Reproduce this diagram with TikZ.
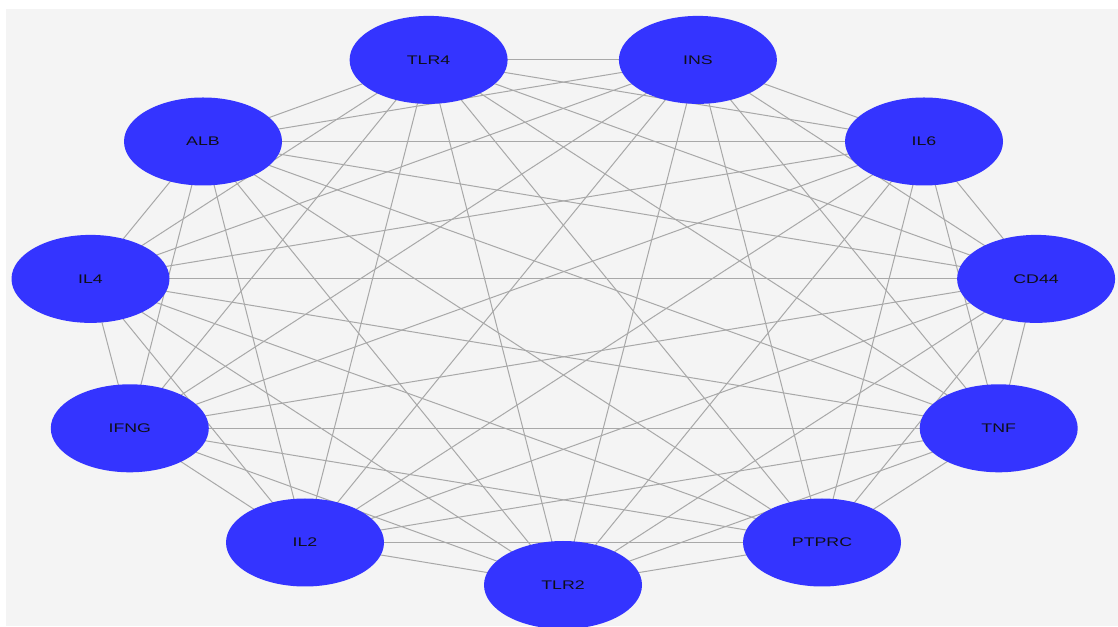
\documentclass[tikz,border=0pt]{standalone}
\usepackage{fontspec}
\setmainfont{Liberation Sans}
\usetikzlibrary{shapes.geometric,backgrounds}
\definecolor{nodeblue}{RGB}{52,52,255}
\definecolor{panel}{RGB}{244,244,244}
\definecolor{edgegray}{RGB}{168,168,168}
\definecolor{labelink}{RGB}{15,15,25}
\tikzset{
  gene/.style={ellipse, fill=nodeblue, draw=none, minimum width=158pt,
    minimum height=88pt, inner sep=0pt, text=labelink,
    font=\fontsize{12.5}{14}\selectfont},
  link/.style={draw=edgegray, line width=1pt},
}
\newcommand{\glabel}[1]{\scalebox{1.42}[1]{#1}}
\begin{document}
\begin{tikzpicture}[x=1pt,y=1pt]
\useasboundingbox (0,0) rectangle (1118,626);
% genes placed on an ellipse around (563,309)
\node[gene] (TLR2)  at (563.0, 41.0)  {\glabel{TLR2}};
\node[gene] (PTPRC) at (822.0, 83.5)  {\glabel{PTPRC}};
\node[gene] (TNF)   at (998.7, 197.7) {\glabel{TNF}};
\node[gene] (CD44)  at (1036.1,347.1) {\glabel{CD44}};
\node[gene] (IL6)   at (924.0, 484.5) {\glabel{IL6}};
\node[gene] (INS)   at (697.9, 566.1) {\glabel{INS}};
\node[gene] (TLR4)  at (428.6, 566.1) {\glabel{TLR4}};
\node[gene] (ALB)   at (203.0, 484.5) {\glabel{ALB}};
\node[gene] (IL4)   at (90.5,  347.1) {\glabel{IL4}};
\node[gene] (IFNG)  at (129.8, 197.7) {\glabel{IFNG}};
\node[gene] (IL2)   at (305.0, 83.5)  {\glabel{IL2}};
\begin{pgfonlayer}{background}
  \fill[white] (0,0) rectangle (1118,626);
  \fill[panel] (6,0) rectangle (1118,617);
  % every pair of genes is linked
  \foreach \a [count=\i] in {TLR2,PTPRC,TNF,CD44,IL6,INS,TLR4,ALB,IL4,IFNG,IL2}{
    \foreach \b [count=\j] in {TLR2,PTPRC,TNF,CD44,IL6,INS,TLR4,ALB,IL4,IFNG,IL2}{
      \ifnum\j>\i
        \draw[link] (\a.center) -- (\b.center);
      \fi
    }
  }
\end{pgfonlayer}
\end{tikzpicture}
\end{document}
